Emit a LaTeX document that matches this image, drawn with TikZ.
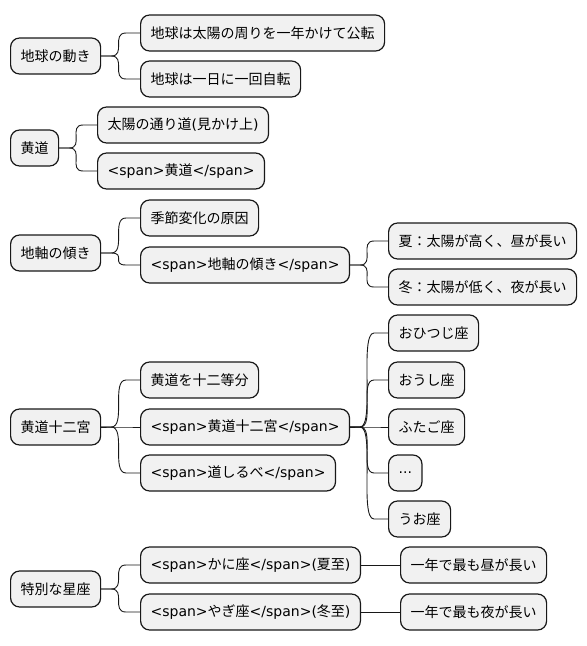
\documentclass[tikz,border=0pt]{standalone}
\usepackage{fontspec}
\setmainfont{Noto Sans CJK JP}
\newfontfamily\lat{DejaVu Sans}
\usetikzlibrary{positioning}
\definecolor{mfill}{HTML}{F1F1F1}
\definecolor{mline}{HTML}{181818}
\tikzset{
  mnode/.style={draw=mline, fill=mfill, rounded corners=9pt, line width=1.2pt,
                minimum height=36pt, inner xsep=10pt, anchor=west,
                font=\fontsize{14}{16}\selectfont},
  link/.style={mline, line width=0.9pt},
}
\newcommand{\branch}[2]{%
  \draw[link] (#1.east) -- ++(10,0) .. controls +(15,0) and +(-15,0)
    .. ([xshift=-14pt]#2.west) -- (#2.west);}
\newcommand{\moredots}{{\lat ...}}
\newcommand{\spanned}[1]{{\lat <span>}#1{\lat </span>}}

\begin{document}
\begin{tikzpicture}[x=1pt, y=-1pt]
  \useasboundingbox (0,0) rectangle (587,646);

  %% Earth's motion
  \node[mnode] (earth) at (10,56) {地球の動き};
  \node[mnode] (orbit) at (140,33) {地球は太陽の周りを一年かけて公転};
  \node[mnode] (spin)  at (140,79) {地球は一日に一回自転};
  \branch{earth}{orbit}
  \branch{earth}{spin}

  %% Ecliptic
  \node[mnode] (ecl)     at (10,148) {黄道};
  \node[mnode] (eclpath) at (97,125) {太陽の通り道{\lat (}見かけ上{\lat )}};
  \node[mnode] (eclspan) at (97,171) {\spanned{黄道}};
  \branch{ecl}{eclpath}
  \branch{ecl}{eclspan}

  %% Axial tilt
  \node[mnode] (tilt)     at (10,253)  {地軸の傾き};
  \node[mnode] (season)   at (140,218) {季節変化の原因};
  \node[mnode] (tiltspan) at (140,265) {\spanned{地軸の傾き}};
  \node[mnode] (summer)   at (388,241) {夏：太陽が高く、昼が長い};
  \node[mnode] (winter)   at (388,287) {冬：太陽が低く、夜が長い};
  \branch{tilt}{season}
  \branch{tilt}{tiltspan}
  \branch{tiltspan}{summer}
  \branch{tiltspan}{winter}

  %% Zodiac
  \node[mnode] (zod)     at (10,427)  {黄道十二宮};
  \node[mnode] (split)   at (140,380) {黄道を十二等分};
  \node[mnode] (zodspan) at (140,427) {\spanned{黄道十二宮}};
  \node[mnode] (guide)   at (140,473) {\spanned{道しるべ}};
  \branch{zod}{split}
  \branch{zod}{zodspan}
  \branch{zod}{guide}
  \foreach \name/\y/\txt in {aries/333/おひつじ座, taurus/380/おうし座,
      gemini/427/ふたご座, rest/473/\moredots, pisces/519/うお座}{
    \node[mnode] (\name) at (388,\y) {\txt};
    \branch{zodspan}{\name}
  }

  %% Special constellations
  \node[mnode] (spec)   at (10,589)  {特別な星座};
  \node[mnode] (cancer) at (140,565) {\spanned{かに座}{\lat (}夏至{\lat )}};
  \node[mnode] (capri)  at (140,612) {\spanned{やぎ座}{\lat (}冬至{\lat )}};
  \node[mnode] (longday)   at (400,565) {一年で最も昼が長い};
  \node[mnode] (longnight) at (400,612) {一年で最も夜が長い};
  \branch{spec}{cancer}
  \branch{spec}{capri}
  \draw[link] (cancer) -- (longday);
  \draw[link] (capri) -- (longnight);
\end{tikzpicture}
\end{document}
